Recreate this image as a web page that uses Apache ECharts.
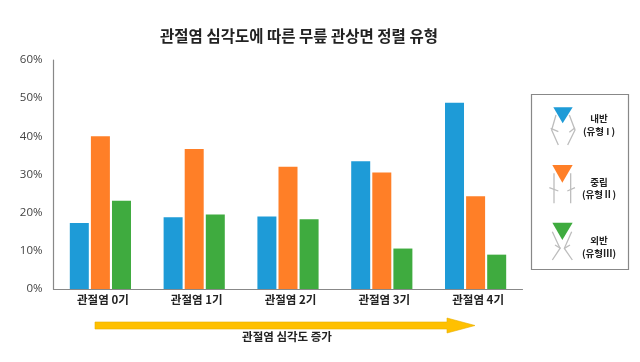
<!DOCTYPE html>
<html><head><meta charset="utf-8">
<style>html,body{margin:0;padding:0;background:#fff}#c{width:640px;height:362px}</style>
<script src="https://cdn.jsdelivr.net/npm/echarts@6/dist/echarts.min.js"></script>
</head><body><div id="c"></div>
<script>
var categories = ['관절염 0기','관절염 1기','관절염 2기','관절염 3기','관절염 4기'];
var varus = [17.3,18.8,19,33.5,48.8];
var neutral = [40,36.7,32,30.5,24.3];
var valgus = [23.1,19.5,18.3,10.6,9];
var seriesNames = ['내반 (유형 I)','중립 (유형Ⅱ)','외반 (유형Ⅲ)'];
var colors = ['#1E9BD7','#FF7F27','#3FAB3F'];
var font = '"Noto Sans CJK KR","Noto Sans",sans-serif';
var P = function(a){return a.map(function(p){return [520+p[0]/3,85+p[1]/3];});};
var legShapes = [
 {c:colors[0],tri:[[100,67],[158,67],[128,115]],lines:[[[108,90],[95,135],[115,180]],[[148,90],[165,135],[143,180]],[[92,130],[115,140]],[[165,128],[148,142]]]},
 {c:colors[1],tri:[[97,240],[158,240],[127,293]],lines:[[[102,265],[102,355]],[[152,265],[152,355]],[[88,308],[115,318]],[[165,308],[142,318]]]},
 {c:colors[2],tri:[[97,413],[158,413],[127,465]],lines:[[[97,440],[120,490],[97,525]],[[155,440],[133,490],[157,525]],[[105,480],[122,490]],[[150,480],[133,490]]]}
];
var g = [{type:'rect',shape:{x:531.5,y:94.5,width:97,height:175},style:{fill:'#fff',stroke:'#888',lineWidth:1.2}}];
legShapes.forEach(function(s){
  s.lines.forEach(function(l){g.push({type:'polyline',shape:{points:P(l)},style:{fill:null,stroke:'#bdbdbd',lineWidth:1.3}});});
  g.push({type:'polygon',shape:{points:P(s.tri)},style:{fill:s.c}});
});
var texts = [['내반',599,118],['(유형 I )',599,131],['중립',599,182],['(유형Ⅱ)',599,194],['외반',599,240],['(유형Ⅲ)',599,253]];
texts.forEach(function(t){g.push({type:'text',style:{text:t[0],x:t[1],y:t[2],align:'center',verticalAlign:'middle',font:'bold 9.5px '+font,fill:'#222'}});});
g.push({type:'polygon',shape:{points:[[95,322],[447,322],[447,318],[475,325.5],[447,333],[447,329],[95,329]]},style:{fill:'#FFC000',stroke:'#E8AE00',lineWidth:0.6}});
g.push({type:'text',style:{text:'관절염 심각도 증가',x:287,y:337,align:'center',verticalAlign:'middle',font:'bold 11.5px '+font,fill:'#222'}});
var mk = function(i,d){return {name:seriesNames[i],type:'bar',data:d,barWidth:19,barGap:'11%',itemStyle:{color:colors[i]}};};
var chart = echarts.init(document.getElementById('c'),null,{renderer:'canvas'});
chart.setOption({
 animation:false,
 title:{text:'관절염 심각도에 따른 무릎 관상면 정렬 유형',left:294,top:23,textAlign:'center',textStyle:{fontFamily:font,fontSize:15.5,fontWeight:'bold',color:'#222'}},
 grid:{left:53.5,top:60,width:469,height:229},
 xAxis:{type:'category',data:categories,axisTick:{show:false},axisLine:{lineStyle:{color:'#888',width:1.2}},axisLabel:{margin:5,padding:[0,0,0,5],fontFamily:font,fontSize:11.5,fontWeight:'bold',color:'#222'}},
 yAxis:{type:'value',min:0,max:60,interval:10,axisLine:{show:true,lineStyle:{color:'#888',width:1.2}},axisTick:{show:false},splitLine:{show:false},axisLabel:{formatter:'{value}%',margin:11,fontFamily:'"Open Sans",sans-serif',fontSize:11.5,color:'#444'}},
 series:[mk(0,varus),mk(1,neutral),mk(2,valgus)],
 graphic:g
});
</script></body></html>
